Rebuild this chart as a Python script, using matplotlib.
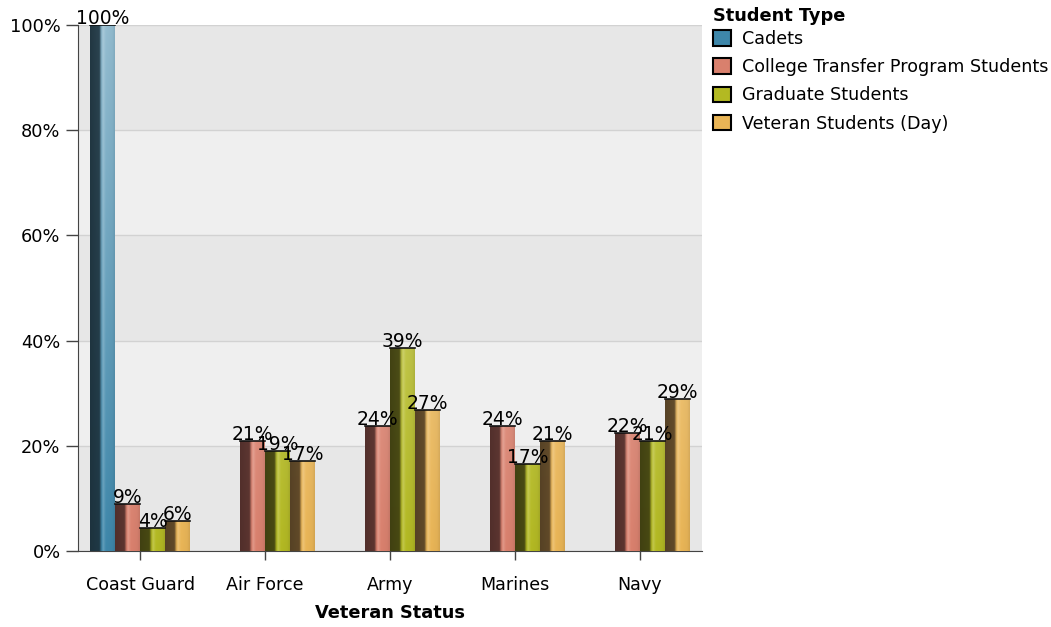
import numpy as np
import matplotlib.pyplot as plt
from matplotlib.colors import to_rgb
from matplotlib.patches import Patch

plt.rcParams['font.family'] = 'DejaVu Sans'

categories = ['Coast Guard', 'Air Force', 'Army', 'Marines', 'Navy']
series = ['Cadets', 'College Transfer Program Students', 'Graduate Students', 'Veteran Students (Day)']
cadets = [100, np.nan, np.nan, np.nan, np.nan]
transfer = [8.9, 20.9, 23.8, 23.8, 22.4]
graduate = [4.4, 19.0, 38.6, 16.6, 20.9]
veteran = [5.7, 17.1, 26.8, 20.9, 28.9]
values = [cadets, transfer, graduate, veteran]

base_colors = ['#3e87aa', '#d9806d', '#b3b922', '#e9b556']
dark_colors = ['#1b2e38', '#4a2a27', '#3a3a10', '#4e3b22']


def gradient(base, dark, h):
    base = np.array(to_rgb(base))
    dark = np.array(to_rgb(dark))
    xs = np.linspace(0, 1, 60)
    w = np.interp(xs, [0, 0.38, 0.44, 0.52, 0.64, 0.9, 1.0],
                  [0.05, 0.12, 0.75, 1.2, 1.0, 0.95, 0.85])
    cols = np.where(w[:, None] <= 1,
                    dark + np.minimum(w, 1)[:, None] * (base - dark),
                    base + (w[:, None] - 1) * (1 - base))
    ys = np.linspace(0, h, 80) / 100.0
    l = 0.45 * ys[:, None, None] * np.minimum(w, 1)[None, :, None]
    img = cols[None, :, :] + l * (1 - cols[None, :, :])
    return np.clip(img, 0, 1)


fig = plt.figure(figsize=(10.51, 6.27), dpi=100)
ax = fig.add_axes([78 / 1051, 76 / 627, 624 / 1051, 526 / 627])

ax.set_facecolor('#e7e7e7')
for lo in (20, 60):
    ax.axhspan(lo, lo + 20, color='#efefef', zorder=0)
ax.yaxis.grid(True, color='#d2d2d2', linewidth=1, zorder=1)
ax.set_axisbelow(True)

x = np.arange(len(categories))
width = 0.2
for i, vals in enumerate(values):
    pos = x + (i - 1.5) * width
    bars = ax.bar(pos, vals, width, color=base_colors[i], zorder=2, linewidth=0)
    for b, v in zip(bars, vals):
        if np.isnan(v):
            continue
        x0, w, h = b.get_x(), b.get_width(), b.get_height()
        im = ax.imshow(gradient(base_colors[i], dark_colors[i], h),
                       extent=[x0, x0 + w, 0, h], origin='lower',
                       aspect='auto', zorder=3, interpolation='bilinear')
        im.set_clip_path(b)
        ax.plot([x0, x0 + w], [h, h], color='#111111', linewidth=1.2, zorder=4)
        ax.text(x0 + w / 2, h + 0.2, f'{v:.0f}%', ha='center', va='baseline',
                fontsize=13.5, zorder=5)

ax.set_xlim(-0.5, len(categories) - 0.5)
ax.set_ylim(0, 100)
ax.set_xticks(x)
ax.set_xticklabels(categories, fontsize=12.6)
ax.set_yticks(np.arange(0, 101, 20))
ax.set_yticklabels([f'{t}%' for t in range(0, 101, 20)], fontsize=12.8)
ax.tick_params(axis='y', length=8.6, width=1, color='#444444', pad=4)
ax.tick_params(axis='x', length=6.5, width=1, color='#444444', pad=11.5)
for s in ('top', 'right'):
    ax.spines[s].set_visible(False)
for s in ('left', 'bottom'):
    ax.spines[s].set_color('#444444')
ax.set_xlabel('Veteran Status', fontsize=12.8, fontweight='bold', labelpad=7)

handles = [Patch(facecolor=c, edgecolor='black', linewidth=1.5) for c in base_colors]
leg = fig.legend(handles, series, loc='upper left', bbox_to_anchor=(701 / 1051, 1.009),
                 frameon=False, fontsize=12.6, title='Student Type',
                 title_fontproperties={'weight': 'bold', 'size': 12.8},
                 handlelength=1.0, handleheight=1.0, handletextpad=0.65,
                 labelspacing=0.58, borderpad=0.2, alignment='left')
leg._legend_box.sep = 4

fig.savefig('out.png', dpi=100)
